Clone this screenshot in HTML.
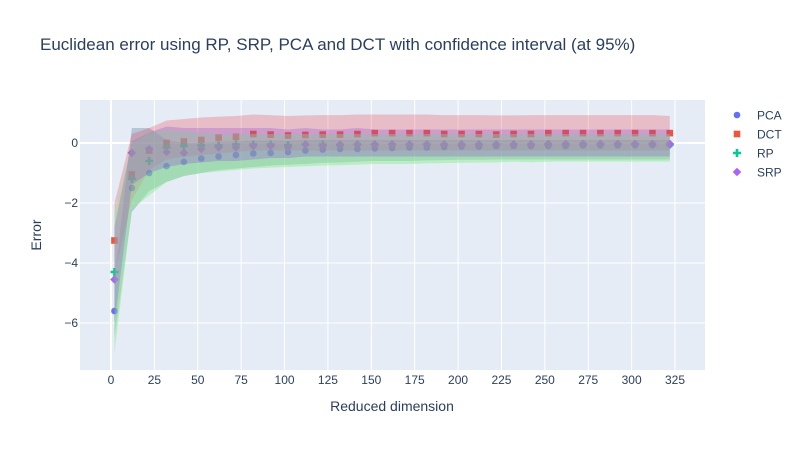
<!DOCTYPE html>
<html><head><meta charset="utf-8"><style>
body{margin:0;background:#fff;}
svg text{font-family:"Liberation Sans",Arial,sans-serif;}
</style></head><body>
<svg id="chart" width="800" height="450" xmlns="http://www.w3.org/2000/svg">
<rect width="800" height="450" fill="#fff"/>
<text x="40" y="50" font-size="17" fill="#2a3f5f">Euclidean error using RP, SRP, PCA and DCT with confidence interval (at 95%)</text>
<rect x="80" y="100" width="625" height="270" fill="#e5ecf6"/>
<g id="grid"></g><g id="marks"></g><g id="bands"></g><g id="ticks"></g>
<text x="392" y="411" font-size="14" fill="#2a3f5f" text-anchor="middle">Reduced dimension</text>
<text x="41" y="235" font-size="14" fill="#2a3f5f" text-anchor="middle" transform="rotate(-90 41 235)">Error</text>
<g id="legend"></g>
</svg>
<script>
const dims=[2,12,22,32,42,52,62,72,82,92,102,112,122,132,142,152,162,172,182,192,202,212,222,232,242,252,262,272,282,292,302,312,322];
const pcaMean=[-5.6,-1.5,-1.0,-0.77,-0.63,-0.52,-0.45,-0.4,-0.35,-0.33,-0.3,-0.25,-0.22,-0.2,-0.2,-0.18,-0.17,-0.15,-0.15,-0.13,-0.12,-0.12,-0.1,-0.1,-0.1,-0.1,-0.1,-0.08,-0.08,-0.08,-0.07,-0.07,-0.05];
const pcaLo=[-6.5,-2.3,-1.6,-1.3,-1.1,-1.0,-0.9,-0.85,-0.8,-0.75,-0.72,-0.7,-0.66,-0.65,-0.62,-0.6,-0.6,-0.6,-0.58,-0.57,-0.56,-0.56,-0.55,-0.55,-0.55,-0.55,-0.55,-0.55,-0.55,-0.55,-0.55,-0.55,-0.55];
const pcaHi=[-4.6,0.5,0.5,0.1,0.0,0.0,0.05,0.05,0.08,0.08,0.08,0.1,0.1,0.1,0.1,0.1,0.1,0.1,0.1,0.1,0.1,0.1,0.1,0.1,0.1,0.1,0.1,0.1,0.1,0.1,0.1,0.1,0.1];
const dctMean=[-3.25,-1.05,-0.25,0.0,0.05,0.1,0.18,0.2,0.3,0.28,0.25,0.27,0.28,0.28,0.3,0.33,0.33,0.33,0.33,0.3,0.3,0.3,0.28,0.3,0.3,0.33,0.33,0.33,0.33,0.33,0.33,0.33,0.33];
const dctLo=[-4.4,-1.9,-0.9,-0.55,-0.45,-0.4,-0.35,-0.3,-0.25,-0.25,-0.25,-0.25,-0.25,-0.25,-0.25,-0.25,-0.25,-0.25,-0.25,-0.25,-0.25,-0.25,-0.25,-0.25,-0.25,-0.25,-0.25,-0.25,-0.25,-0.25,-0.25,-0.25,-0.25];
const dctHi=[-2.0,0.3,0.5,0.75,0.8,0.85,0.88,0.9,0.95,0.93,0.9,0.92,0.93,0.93,0.95,0.95,0.95,0.95,0.95,0.93,0.93,0.93,0.92,0.92,0.93,0.93,0.93,0.93,0.93,0.93,0.93,0.93,0.9];
const rpMean=[-4.3,-1.2,-0.6,-0.15,-0.1,-0.08,-0.08,-0.05,-0.05,-0.05,-0.07,-0.05,-0.05,-0.07,-0.05,-0.05,-0.05,-0.05,-0.05,-0.05,-0.05,-0.05,-0.05,-0.05,-0.05,-0.05,-0.05,-0.05,-0.05,-0.05,-0.05,-0.05,-0.05];
const rpLo=[-7.0,-2.2,-1.75,-1.3,-1.1,-1.0,-0.95,-0.9,-0.85,-0.82,-0.8,-0.78,-0.75,-0.74,-0.72,-0.7,-0.7,-0.7,-0.68,-0.67,-0.66,-0.65,-0.65,-0.62,-0.64,-0.62,-0.62,-0.62,-0.62,-0.62,-0.62,-0.62,-0.62];
const rpHi=[-2.4,0.0,0.35,0.45,0.4,0.35,0.3,0.3,0.3,0.3,0.3,0.3,0.3,0.3,0.3,0.3,0.3,0.3,0.3,0.3,0.3,0.3,0.3,0.3,0.3,0.3,0.3,0.3,0.3,0.3,0.3,0.3,0.3];
const srpMean=[-4.55,-0.33,-0.2,-0.3,-0.33,-0.2,-0.15,-0.15,-0.1,-0.1,-0.15,-0.05,-0.1,-0.05,-0.05,-0.05,-0.05,-0.05,-0.05,-0.05,-0.05,-0.05,-0.05,-0.05,-0.05,-0.03,-0.03,-0.03,-0.03,-0.03,-0.03,-0.03,-0.03];
const srpLo=[-6.0,-1.4,-1.0,-0.8,-0.7,-0.65,-0.6,-0.6,-0.55,-0.5,-0.5,-0.45,-0.45,-0.45,-0.45,-0.45,-0.45,-0.45,-0.45,-0.45,-0.45,-0.45,-0.45,-0.45,-0.45,-0.45,-0.45,-0.45,-0.45,-0.45,-0.45,-0.45,-0.45];
const srpHi=[-2.8,0.05,0.35,0.55,0.5,0.5,0.5,0.5,0.5,0.5,0.45,0.5,0.45,0.45,0.5,0.45,0.45,0.45,0.45,0.45,0.45,0.45,0.45,0.45,0.45,0.45,0.45,0.45,0.45,0.45,0.45,0.45,0.45];
const xTicks=[0,25,50,75,100,125,150,175,200,225,250,275,300,325];
const yTicks=[0,-2,-4,-6];
const yTickLabels=["0","−2","−4","−6"];
const NS="http://www.w3.org/2000/svg";
const xs=v=>111+v*(564/325);
const ys=v=>143-v*30;
function mk(tag,parent,attrs){const e=document.createElementNS(NS,tag);for(const k in attrs)e.setAttribute(k,attrs[k]);document.getElementById(parent).appendChild(e);return e;}
xTicks.forEach(t=>{
  const l=mk('line','grid',{x1:xs(t),x2:xs(t),y1:100,y2:370,stroke:'#fff','stroke-width':t===0?2:1});
  
  
  const tx=mk('text','ticks',{x:xs(t),y:384,'font-size':12,fill:'#2a3f5f','text-anchor':'middle'});
  tx.textContent=t;
  
  
});
yTicks.forEach((t,i)=>{
  const l=mk('line','grid',{x1:80,x2:705,y1:ys(t),y2:ys(t),stroke:'#fff','stroke-width':t===0?2:1});
  
  
  const tx=mk('text','ticks',{x:78,y:ys(t)+4,'font-size':12,fill:'#2a3f5f','text-anchor':'end'});
  tx.textContent=yTickLabels[i];
  
  
});
const series=[
 {name:'PCA',mean:pcaMean,lo:pcaLo,hi:pcaHi,color:'#636efa',fill:'rgba(70,110,150,0.3)',sym:'circle'},
 {name:'DCT',mean:dctMean,lo:dctLo,hi:dctHi,color:'#EF553B',fill:'rgba(240,52,62,0.25)',sym:'square'},
 {name:'RP',mean:rpMean,lo:rpLo,hi:rpHi,color:'#00cc96',fill:'rgba(144,238,144,0.5)',sym:'cross'},
 {name:'SRP',mean:srpMean,lo:srpLo,hi:srpHi,color:'#ab63fa',fill:'rgba(150,80,210,0.3)',sym:'diamond'}];
function marker(g,sym,x,y,color,name){
  let e;
  if(sym==='circle')e=mk('circle',g,{cx:x,cy:y,r:3.3,fill:color});
  else if(sym==='square')e=mk('rect',g,{x:x-3.3,y:y-3.3,width:6.6,height:6.6,fill:color});
  else if(sym==='cross')e=mk('path',g,{d:`M${x-1.3},${y-4}h2.6v2.7h2.7v2.6h-2.7v2.7h-2.6v-2.7h-2.7v-2.6h2.7z`,fill:color});
  else e=mk('path',g,{d:`M${x},${y-4.3}L${x+4.3},${y}L${x},${y+4.3}L${x-4.3},${y}z`,fill:color});
  
  
}
series.forEach(s=>{
  let d='M'+dims.map((v,i)=>xs(v)+','+ys(s.hi[i])).join('L');
  d+='L'+dims.map((v,i)=>[xs(v),ys(s.lo[i])]).reverse().map(p=>p.join(',')).join('L')+'Z';
  const b=mk('path','bands',{d:d,fill:s.fill,stroke:'none'});
  
  
});
series.forEach(s=>{
  dims.forEach((v,i)=>marker('marks',s.sym,xs(v),ys(s.mean[i]),s.color,s.name.toLowerCase()+'-point'));
});
series.forEach((s,i)=>{
  const y=115+i*19;
  marker('legend',s.sym,737,y,s.color,'legend-marker-'+s.name.toLowerCase());
  const t=mk('text','legend',{x:757,y:y+4.5,'font-size':12,fill:'#2a3f5f'});
  t.textContent=s.name;
  
  
});
</script>
</body></html>
